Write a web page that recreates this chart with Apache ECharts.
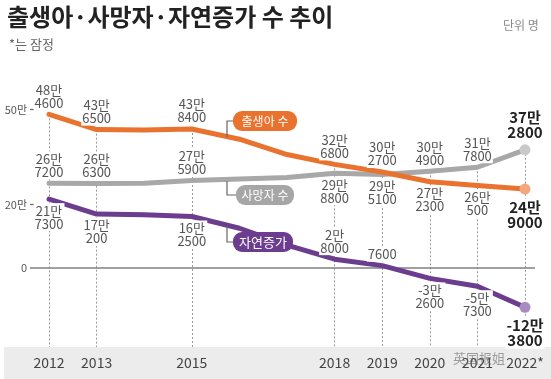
<!DOCTYPE html>
<html><head><meta charset="utf-8">
<script src="https://cdn.jsdelivr.net/npm/echarts@6/dist/echarts.min.js"></script>
<style>html,body{margin:0;padding:0;background:#fff}#c{width:551px;height:379px}</style>
</head><body><div id="c"></div>
<script>
const years = [2012, 2013, 2014, 2015, 2016, 2017, 2018, 2019, 2020, 2021, 2022];
const labeledYears = [2012, 2013, 2015, 2018, 2019, 2020, 2021, 2022];
const births  = [484600, 436500, 435400, 438400, 406200, 357800, 326800, 302700, 272300, 260500, 249000];
const deaths  = [267200, 266300, 267700, 275900, 280800, 285500, 298800, 295100, 304900, 317800, 372800];
const natural = [217300, 170200, 167700, 162500, 125400, 72300, 28000, 7600, -32600, -57300, -123800];
const yTickValues = [0, 200000, 500000];

// label placement per point ('' = no label)
const birthsPos  = ['top','top','','top','','','top','top','bottom','bottom','bottom'];
const deathsPos  = ['top','top','','top','','','bottom','bottom','top','top','top'];
const naturalPos = ['bottom','bottom','','bottom','','','top','top','bottom','bottom','bottom'];

const FONT = '"Noto Sans CJK KR", "Noto Sans", sans-serif';
const C_BIRTH = '#e8722e', C_DEATH = '#a8a8a8', C_NAT = '#6c3d8f';

function fmt(v) {
  const a = Math.abs(v), sign = v < 0 ? '-' : '';
  const man = Math.floor(a / 10000), rest = a % 10000;
  if (man === 0) return sign + rest;
  return sign + man + '만\n' + rest;
}
function build(vals, pos, halo) {
  return vals.map((v, i) => {
    const last = i === vals.length - 1;
    const item = { value: [years[i], v] };
    item.label = pos[i] ? {
      show: true, position: pos[i], distance: 4,
      offset: last ? [7, 0] : [0, 0],
      formatter: fmt(v),
      fontFamily: FONT,
      fontSize: last ? 15 : 13,
      fontWeight: last ? 'bold' : 'normal',
      color: last ? '#222' : '#555',
      lineHeight: last ? 15 : 13,
      backgroundColor: '#fff', padding: [1, 1]
    } : { show: false };
    if (last) {
      item.symbolSize = 11;
      item.itemStyle = { color: halo };
    }
    return item;
  });
}
function lineSeries(name, vals, pos, color, halo) {
  return {
    name, type: 'line', data: build(vals, pos, halo),
    symbol: 'circle', symbolSize: 0, showSymbol: true, z: 5,
    lineStyle: { color, width: 5, cap: 'round', join: 'round' },
    itemStyle: { color },
    labelLayout: { hideOverlap: false },
    emphasis: { disabled: true }, animation: false
  };
}

const guideLines = labeledYears.map(y => {
  const i = years.indexOf(y);
  const top = Math.max(births[i], deaths[i]);
  return [{ coord: [y, top] }, { coord: [y, -249000] }];
});

const chart = echarts.init(document.getElementById('c'));
chart.setOption({
  animation: false,
  backgroundColor: '#fff',
  grid: { left: 30, right: 16, top: 60, bottom: 32 },
  xAxis: {
    type: 'value', min: 2011.6, max: 2022.21,
    splitLine: { show: false }, axisLine: { show: false }, axisTick: { show: false },
    axisLabel: {
      customValues: labeledYears, margin: 9,
      formatter: v => v === 2022 ? '2022*' : String(v),
      fontFamily: FONT, fontSize: 14, color: '#444'
    }
  },
  yAxis: {
    type: 'value', min: -249000, max: 656000,
    splitLine: { show: false }, axisLine: { show: false },
    axisTick: { show: true, inside: true, length: 9, customValues: [200000, 500000],
      lineStyle: { color: '#666', width: 1.2 } },
    axisLabel: {
      customValues: yTickValues, margin: 3,
      formatter: v => v === 0 ? '0' : (v / 10000) + '만',
      fontFamily: FONT, fontSize: 11, color: '#555'
    }
  },
  series: [
    {
      type: 'line', data: [], z: 1, silent: true,
      markLine: {
        silent: true, symbol: 'none', label: { show: false }, animation: false,
        lineStyle: { color: '#9a9a9a', type: [2, 2], width: 1 },
        data: guideLines
      }
    },
    {
      type: 'line', data: [], z: 2, silent: true,
      markLine: {
        silent: true, symbol: 'none', label: { show: false }, animation: false,
        lineStyle: { color: '#808080', type: 'solid', width: 1.5 },
        data: [{ yAxis: 0 }]
      }
    },
    lineSeries('사망자 수', deaths, deathsPos, C_DEATH, '#c9c9c9'),
    lineSeries('출생아 수', births, birthsPos, C_BIRTH, '#f4a77c'),
    lineSeries('자연증가', natural, naturalPos, C_NAT, '#a88cc0')
  ],
  graphic: [
    { type: 'rect', z: -10, shape: { x: 4, y: 347, width: 547, height: 32 }, style: { fill: '#ececec' } },
    { type: 'text', left: 7, top: 5, style: { text: '출생아·사망자·자연증가 수 추이', font: 'bold 24px ' + FONT, fill: '#222' } },
    { type: 'text', left: 9, top: 38, style: { text: '*는 잠정', font: '13px ' + FONT, fill: '#666' } },
    { type: 'text', left: 503, top: 19, style: { text: '단위 명', font: '12px ' + FONT, fill: '#888' } },
    // legend tags
    { type: 'polyline', z: 20, shape: { points: [[227, 137], [227, 121], [234, 121]] }, style: { stroke: '#666', lineWidth: 1.2, fill: null } },
    { type: 'rect', z: 20, shape: { x: 233, y: 111, width: 64, height: 20, r: 9 }, style: { fill: C_BIRTH } },
    { type: 'text', z: 21, x: 265, y: 121, style: { text: '출생아 수', font: '12px ' + FONT, fill: '#fff', align: 'center', verticalAlign: 'middle' } },
    { type: 'polyline', z: 20, shape: { points: [[227, 181], [227, 195], [237, 195]] }, style: { stroke: '#666', lineWidth: 1.2, fill: null } },
    { type: 'rect', z: 20, shape: { x: 236, y: 185, width: 58, height: 20, r: 9 }, style: { fill: '#a6a6a6' } },
    { type: 'text', z: 21, x: 265, y: 195, style: { text: '사망자 수', font: '12px ' + FONT, fill: '#fff', align: 'center', verticalAlign: 'middle' } },
    { type: 'polyline', z: 20, shape: { points: [[227, 226], [227, 242], [234, 242]] }, style: { stroke: '#666', lineWidth: 1.2, fill: null } },
    { type: 'rect', z: 20, shape: { x: 233, y: 232, width: 60, height: 20, r: 9 }, style: { fill: C_NAT } },
    { type: 'text', z: 21, x: 263, y: 242, style: { text: '자연증가', font: '13px ' + FONT, fill: '#fff', align: 'center', verticalAlign: 'middle' } },
    { type: 'text', z: 22, left: 453, top: 352, style: { text: '英国报姐', font: '13px ' + FONT, fill: 'rgba(90,90,90,0.55)' } }
  ]
});
</script></body></html>
